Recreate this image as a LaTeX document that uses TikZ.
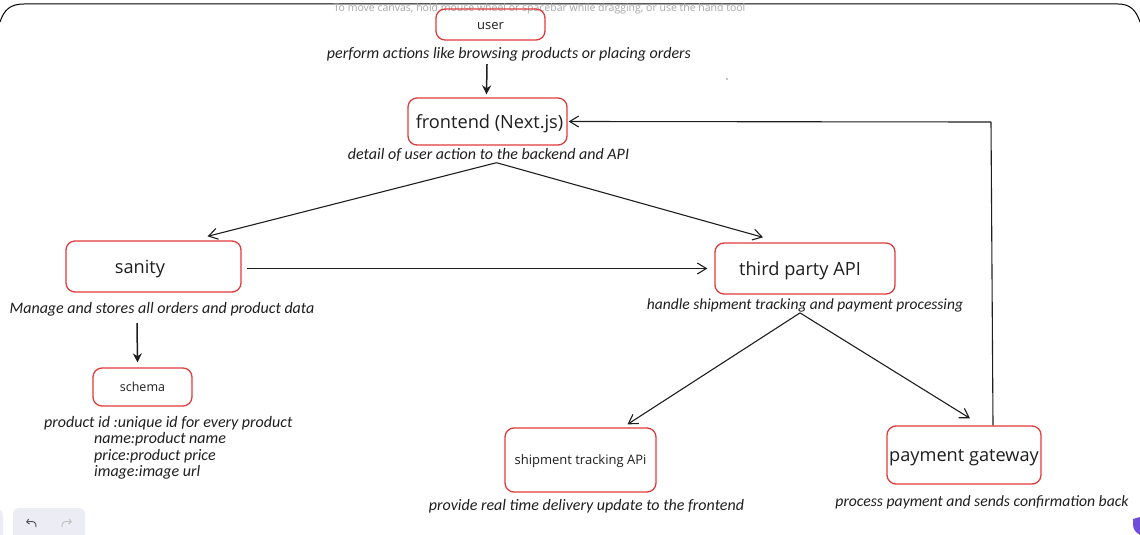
\documentclass[tikz,border=0pt]{standalone}
\usepackage{fontspec}
\usepackage{xcolor}
\usetikzlibrary{arrows.meta}
\setmainfont{Open Sans}
\newfontfamily\handfont{Carlito}[ItalicFont=* Italic]
\definecolor{boxred}{HTML}{E03B3B}
\definecolor{inkdark}{HTML}{1E1E1E}
\definecolor{barfill}{HTML}{ECECF4}
\tikzset{
    box/.style={shape=rectangle,draw=boxred,line width=1.3pt,rounded corners=9pt,inner sep=0pt,text=inkdark},
    bigbox/.style={box,font=\fontsize{18.2}{20}\selectfont,text height=14pt,text depth=0pt},
    smallbox/.style={box,font=\fontsize{13}{15}\selectfont,text height=9.5pt,text depth=0pt},
    note/.style={inner sep=0pt,text=inkdark,font=\handfont\itshape\fontsize{16}{16.5}\selectfont},
    flow/.style={-{Straight Barb[length=9pt,width=11pt]},draw=inkdark,line width=1.1pt},
    heavy/.style={-{Stealth[length=9pt,width=9pt]},draw=inkdark,line width=1.5pt}
}
\begin{document}
\begin{tikzpicture}[x=1pt,y=-1pt]
            \useasboundingbox (0,0) rectangle (1140,535);

            \draw[black,line width=1pt] (0,22) .. controls (4,10) and (10,4) .. (24,4) -- (1118,4) .. controls (1130,4) and (1136,10) .. (1140,22);
            \node[text=black!35,inner sep=0pt,font=\fontsize{10.5}{12}\selectfont] (hint) at (539.5,8.5) {To move canvas, hold mouse wheel or spacebar while dragging, or use the hand tool};

            \node[smallbox,minimum width=109pt,minimum height=31pt] (user) at (490.5,24.5) {user};
            \node[bigbox,minimum width=159pt,minimum height=47pt] (frontend) at (487.5,121.5) {\hspace{4pt}frontend (Next.js)};
            \node[bigbox,minimum width=175pt,minimum height=51pt] (sanity) at (153.5,266.5) {sanity\hspace{27pt}\null};
            \node[bigbox,minimum width=180pt,minimum height=51pt] (third) at (805,268.5) {third party API\hspace{10pt}\null};
            \node[smallbox,minimum width=99pt,minimum height=38pt,font=\fontsize{12.5}{15}\selectfont] (schema) at (142.5,387) {schema};
            \node[smallbox,minimum width=151pt,minimum height=64pt] (shipment) at (580.5,460) {shipment tracking APi};
            \node[bigbox,minimum width=154pt,minimum height=58pt,text height=12.5pt] (payment) at (964,455) {payment gateway};

            \node[note] (usernote) at (509,54) {perform actions like browsing products or placing orders};
            \node[note] (frontnote) at (488.5,155) {detail of user action to the backend and API};
            \node[note] (sanitynote) at (162,309) {Manage and stores all orders and product data};
            \node[note,font=\handfont\itshape\fontsize{15.5}{16.5}\selectfont] (thirdnote) at (805,305) {handle shipment tracking and payment processing};
            \node[note,align=left,anchor=west] (schemanote) at (94,448) {\hspace{-50pt}product id :unique id for every product\\name:product name\\price:product price\\image:image url};
            \node[note] (shipnote) at (586.5,506) {provide real time delivery update to the frontend};
            \node[note,font=\handfont\itshape\fontsize{15.7}{16.5}\selectfont] (paynote) at (982,502) {process payment and sends confirmation back};

            \coordinate (corner) at (991,122);
            \node[fill=black,circle,inner sep=0.5pt] (speck) at (727,79) {};

            \draw [heavy] ([xshift=-22pt,yshift=-3pt]usernote.south) -- ([xshift=-1pt,yshift=3pt]frontend.north);
            \draw [heavy] ([xshift=-25pt,yshift=-7pt]sanitynote.south) -- ([xshift=-5pt,yshift=5pt]schema.north);

            \draw [flow] ([xshift=8pt,yshift=-1pt]frontnote.south) -- ([xshift=54pt,yshift=4pt]sanity.north);
            \draw [flow] ([xshift=8pt,yshift=-1pt]frontnote.south) -- ([xshift=-42pt,yshift=5pt]third.north);
            \draw [flow] ([xshift=5pt,yshift=-2pt]sanity.east) -- ([xshift=-7pt]third.west);
            \draw [flow] ([xshift=-5pt,yshift=-1pt]thirdnote.south) -- ([xshift=47pt,yshift=3pt]shipment.north);
            \draw [flow] ([xshift=-5pt,yshift=-1pt]thirdnote.south) -- ([xshift=6pt,yshift=7pt]payment.north);

            \draw [draw=inkdark,line width=1.1pt] ([xshift=29pt]payment.north) -- (corner);
            \draw [flow] (corner) -- ([xshift=1pt]frontend.east);

            % canvas toolbar
            \fill[barfill,rounded corners=6pt] (-10,509) rectangle (3,550);
            \fill[barfill,rounded corners=6pt] (13,508) rectangle (85,550);
            \draw[black!70,line width=0.9pt,-{Straight Barb[length=2.5pt,width=5pt]}] (36,527) .. controls (37,521) and (32,521) .. (26,522);
            \draw[black!25,line width=0.9pt,-{Straight Barb[length=2.5pt,width=5pt]}] (62,527) .. controls (61,521) and (66,521) .. (72,522);
            \fill[blue!60!violet!70] (1133,519) -- (1140,517) -- (1140,535) -- (1136,532) .. controls (1133,528) .. (1133,519);
\end{tikzpicture}
\end{document}
